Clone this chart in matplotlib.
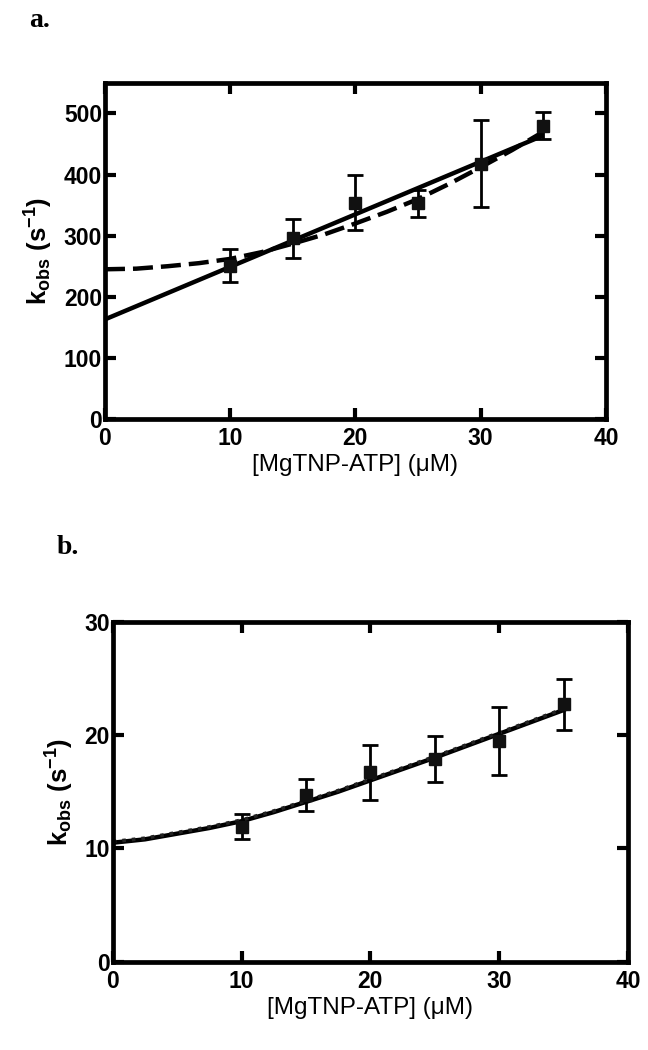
import matplotlib
matplotlib.use("Agg")
import matplotlib.pyplot as plt

plt.rcParams['font.family'] = ['Liberation Sans', 'DejaVu Sans']
plt.rcParams['mathtext.fontset'] = 'custom'
plt.rcParams['mathtext.rm'] = 'Liberation Sans'
plt.rcParams['mathtext.bf'] = 'Liberation Sans:bold'
plt.rcParams['mathtext.it'] = 'Liberation Sans:italic'

# ---- Panel a data ----
a_x = [10, 15, 20, 25, 30, 35]
a_y = [251, 296, 354, 353, 418, 480]
a_err = [27, 32, 45, 22, 71, 22]
a_lin_x = [0, 35]
a_lin_y = [163, 464]
a_dash_x = [0, 2.5, 5, 7.5, 10, 12.5, 15, 17.5, 20, 22.5, 25, 27.5, 30, 32.5, 35]
a_dash_y = [245, 246, 250, 255, 262, 273, 287, 302, 320, 339, 360, 385, 412, 440, 470]

# ---- Panel b data ----
b_x = [10, 15, 20, 25, 30, 35]
b_y = [11.9, 14.7, 16.7, 17.9, 19.5, 22.7]
b_err = [1.1, 1.4, 2.4, 2.05, 3.0, 2.25]
b_fit_x = [0, 2.5, 5, 7.5, 10, 12.5, 15, 17.5, 20, 22.5, 25, 27.5, 30, 32.5, 35]
b_fit_y = [10.5, 10.8, 11.3, 11.8, 12.4, 13.2, 14.1, 15.0, 16.0, 17.0, 18.0, 19.05, 20.1, 21.15, 22.2]

x_ticks = [0, 10, 20, 30, 40]
a_yticks = [0, 100, 200, 300, 400, 500]
b_yticks = [0, 10, 20, 30]

fig = plt.figure(figsize=(6.48, 10.5), dpi=100)
ax_a = fig.add_axes([0.162, 0.601, 0.773, 0.320])
ax_b = fig.add_axes([0.174, 0.084, 0.795, 0.324])

def style(ax, yticks, ylim):
    ax.set_xlim(0, 40)
    ax.set_ylim(*ylim)
    ax.set_xticks(x_ticks)
    ax.set_yticks(yticks)
    for s in ax.spines.values():
        s.set_linewidth(3.4)
    ax.tick_params(direction='in', length=8, width=3, top=True, right=True,
                   labelsize=16.5)
    ax.tick_params(axis='x', pad=6)
    ax.tick_params(axis='y', pad=2)
    for lab in ax.get_xticklabels() + ax.get_yticklabels():
        lab.set_fontweight('bold')
    ax.set_xlabel('[MgTNP-ATP] (\u03bcM)', fontsize=17.5, labelpad=3)
    ax.set_ylabel(r'$\mathbf{k_{obs}}$ $\mathbf{(s^{-1})}$', fontsize=18.5, labelpad=6)

# Panel a
ax_a.plot(a_lin_x, a_lin_y, color='black', lw=3.2, solid_capstyle='butt')
ax_a.plot(a_dash_x, a_dash_y, color='black', lw=3.2, ls=(0, (4.5, 1.8)))
ax_a.errorbar(a_x, a_y, yerr=a_err, fmt='s', color='black', ms=8.5,
              elinewidth=2, capsize=6, capthick=2, mfc='#111111', mec='#111111')
style(ax_a, a_yticks, (0, 550))

# Panel b
ax_b.plot(b_fit_x, b_fit_y, color='black', lw=3.2)
ax_b.plot(b_fit_x, [v + 0.1 for v in b_fit_y], color='#222222', lw=2.6, ls=':')
ax_b.errorbar(b_x, b_y, yerr=b_err, fmt='s', color='black', ms=9,
              elinewidth=2, capsize=6, capthick=2, mfc='#111111', mec='#111111')
style(ax_b, b_yticks, (0, 30))

fig.text(0.045, 0.992, 'a.', fontsize=20, fontweight='bold', family='Liberation Serif',
         va='top', ha='left')
fig.text(0.087, 0.490, 'b.', fontsize=20, fontweight='bold', family='Liberation Serif',
         va='top', ha='left')

fig.savefig('out.png', dpi=100)
